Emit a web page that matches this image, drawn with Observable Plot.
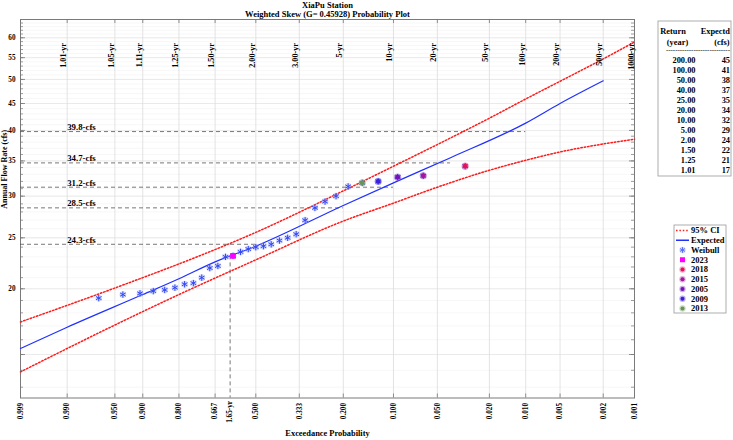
<!DOCTYPE html>
<html>
<head>
<meta charset="utf-8">
<script src="https://cdn.jsdelivr.net/npm/d3@7"></script>
<script src="https://cdn.jsdelivr.net/npm/@observablehq/plot@0.6"></script>
<style>
  html, body { margin: 0; padding: 0; background: #fff; }
  #chart { width: 733px; height: 440px; }
</style>
</head>
<body>
<div id="chart"></div>
<script>
// ---- Station data -------------------------------------------------------
const skewG = 0.45928;

// Exceedance-probability grid and its labels
const probTicks  = [0.999, 0.990, 0.950, 0.900, 0.800, 0.667, 0.500, 0.333, 0.200, 0.100, 0.050, 0.020, 0.010, 0.005, 0.002, 0.001];
const probLabels = ["0.999", "0.990", "0.950", "0.900", "0.800", "0.667", "0.500", "0.333", "0.200", "0.100", "0.050", "0.020", "0.010", "0.005", "0.002", "0.001"];
const periodProbs  = [0.990, 0.950, 0.900, 0.800, 0.667, 0.500, 0.333, 0.200, 0.100, 0.050, 0.020, 0.010, 0.005, 0.002, 0.001];
const periodLabels = ["1.01-yr", "1.05-yr", "1.11-yr", "1.25-yr", "1.50-yr", "2.00-yr", "3.00-yr", "5-yr", "10-yr", "20-yr", "50-yr", "100-yr", "200-yr", "500-yr", "1000-yr"];

// Flow axis
const yDomain = [12.4, 65];
const yTickLabels = [20, 25, 30, 35, 40, 45, 50, 55, 60];

// Observed annual flows, Weibull plotting positions (largest first)
const weibullP = [0.031, 0.063, 0.094, 0.125, 0.156, 0.188, 0.219, 0.250, 0.281, 0.313, 0.344, 0.375, 0.406, 0.438, 0.469, 0.500,
                  0.531, 0.563, 0.594, 0.625, 0.656, 0.688, 0.719, 0.750, 0.781, 0.813, 0.844, 0.875, 0.906, 0.938, 0.969];
const weibullQ = [34.2, 32.8, 32.6, 32.0, 31.8, 31.3, 30.0, 29.3, 28.5, 27.0, 25.4, 25.0, 24.7, 24.3, 24.1, 24.0,
                  23.8, 23.5, 23.1, 23.0, 22.1, 21.9, 21.0, 20.5, 20.4, 20.1, 19.9, 19.8, 19.6, 19.5, 19.2];

// Highlighted years
const yearNames  = ["2023", "2018", "2015", "2005", "2009", "2013"];
const yearP      = [0.594, 0.031, 0.063, 0.094, 0.125, 0.156];
const yearQ      = [23.1, 34.2, 32.8, 32.6, 32.0, 31.8];
const yearColors = ["#ff00ff", "#e3125e", "#a3179b", "#7413b6", "#3f1fdc", "#6a9454"];

// Fitted (expected) frequency curve
const expectedP = [0.999, 0.990, 0.900, 0.800, 0.667, 0.500, 0.200, 0.100, 0.040, 0.010, 0.005, 0.002];
const expectedQ = [15.4, 16.9, 19.5, 20.9, 22.5, 24.1, 28.8, 31.8, 35.5, 41.3, 45.0, 49.7];

// 95% confidence limits
const ciP     = [0.999, 0.990, 0.900, 0.800, 0.500, 0.200, 0.100, 0.050, 0.020, 0.010, 0.005, 0.002, 0.001];
const ciUpper = [17.3, 18.6, 21.0, 22.3, 25.6, 30.7, 34.2, 37.6, 42.2, 45.9, 49.6, 54.7, 58.9];
const ciLower = [13.9, 15.4, 18.1, 19.5, 22.7, 26.9, 29.1, 31.2, 33.6, 35.1, 36.4, 37.7, 38.5];

// Reference flows and the return period each one is drawn to
const refQ = [24.3, 28.5, 31.2, 34.7, 39.8];
const refP = [0.500, 0.200, 0.100, 0.040, 0.010];

// 2023 event return period
const eventPeriod = 1.65;
const eventQ = 23.1;

// Summary table
const tableReturn   = ["200.00", "100.00", "50.00", "40.00", "25.00", "20.00", "10.00", "5.00", "2.00", "1.50", "1.25", "1.01"];
const tableExpected = [45, 41, 38, 37, 35, 34, 32, 29, 24, 22, 21, 17];

// ---- Probability axis: Pearson type III frequency factor -----------------
function normInv(p) {
  const a = [-3.969683028665376e+01, 2.209460984245205e+02, -2.759285104469687e+02, 1.383577518672690e+02, -3.066479806614716e+01, 2.506628277459239e+00];
  const b = [-5.447609879822406e+01, 1.615858368580409e+02, -1.556989798598866e+02, 6.680131188771972e+01, -1.328068155288572e+01];
  const c = [-7.784894002430293e-03, -3.223964580411365e-01, -2.400758277161838e+00, -2.549732539343734e+00, 4.374664141464968e+00, 2.938163982698783e+00];
  const d = [7.784695709041462e-03, 3.224671290700398e-01, 2.445134137142996e+00, 3.754408661907416e+00];
  const pl = 0.02425, ph = 1 - pl;
  let q, r;
  if (p < pl) {
    q = Math.sqrt(-2 * Math.log(p));
    return (((((c[0]*q + c[1])*q + c[2])*q + c[3])*q + c[4])*q + c[5]) / ((((d[0]*q + d[1])*q + d[2])*q + d[3])*q + 1);
  }
  if (p <= ph) {
    q = p - 0.5; r = q * q;
    return (((((a[0]*r + a[1])*r + a[2])*r + a[3])*r + a[4])*r + a[5])*q / (((((b[0]*r + b[1])*r + b[2])*r + b[3])*r + b[4])*r + 1);
  }
  q = Math.sqrt(-2 * Math.log(1 - p));
  return -(((((c[0]*q + c[1])*q + c[2])*q + c[3])*q + c[4])*q + c[5]) / ((((d[0]*q + d[1])*q + d[2])*q + d[3])*q + 1);
}
// Wilson–Hilferty frequency factor for an exceedance probability
function K(p) {
  const z = normInv(1 - p), g = skewG;
  return (2 / g) * (Math.pow(1 + g * z / 6 - g * g / 36, 3) - 1);
}

// ---- Tables for the marks --------------------------------------------------
const xDomain = [K(probTicks[0]), K(probTicks[probTicks.length - 1])];
const gridX = probTicks.map((p, i) => ({k: K(p), label: probLabels[i]}));
const periods = periodProbs.map((p, i) => ({k: K(p), label: periodLabels[i]}));
const weibull = weibullP.map((p, i) => ({k: K(p), q: weibullQ[i]}));
const years = yearNames.map((y, i) => ({year: y, k: K(yearP[i]), q: yearQ[i], color: yearColors[i]}));
const expected = expectedP.map((p, i) => ({k: K(p), q: expectedQ[i]}));
const upper = ciP.map((p, i) => ({k: K(p), q: ciUpper[i]}));
const lower = ciP.map((p, i) => ({k: K(p), q: ciLower[i]}));
const refs = refQ.map((q, i) => ({q, k0: xDomain[0], k1: K(refP[i]), labelK: K(0.990)}));
const event = [{k: K(1 / eventPeriod), q: eventQ, q0: yDomain[0], label: `${eventPeriod.toFixed(2)}-yr`}];
const minorY = d3.range(13, 65);
const majorY = minorY.filter(v => v % 5 === 0);

const FONT = "'Liberation Serif', 'Times New Roman', serif";
const frameW = 733 - 20 - 99, frameH = 440 - 19 - 42.5;
const CI_RED = "#ff1a1a", CI_DASH = "1.5,1.9";

const chart = Plot.plot({
  width: 733,
  height: 440,
  marginLeft: 20,
  marginRight: 99,
  marginTop: 19,
  marginBottom: 42.5,
  style: {fontFamily: FONT, fontSize: "8px", fontWeight: "bold", background: "#fff", color: "#000"},
  x: {domain: xDomain, axis: null},
  y: {type: "log", domain: yDomain, axis: null},
  marks: [
    // grid
    Plot.ruleY(minorY, {stroke: "#f1f1f1", strokeWidth: 0.6}),
    Plot.ruleY(majorY, {stroke: "#e4e4e4", strokeWidth: 0.7}),
    Plot.ruleX(gridX, {x: "k", stroke: "#dcdcdc", strokeWidth: 0.8}),
    Plot.frame({stroke: "#7a7a7a", strokeWidth: 1}),
    // inward ticks on all four sides
    Plot.ruleY(minorY, {insetRight: frameW - 3, stroke: "#777", strokeWidth: 0.7}),
    Plot.ruleY(majorY, {insetRight: frameW - 5, stroke: "#777", strokeWidth: 0.8}),
    Plot.ruleY(minorY, {insetLeft: frameW - 3, stroke: "#777", strokeWidth: 0.7}),
    Plot.ruleY(majorY, {insetLeft: frameW - 5, stroke: "#777", strokeWidth: 0.8}),
    Plot.ruleX(gridX, {x: "k", insetTop: frameH - 4, stroke: "#777", strokeWidth: 0.8}),
    Plot.ruleX(gridX, {x: "k", insetBottom: frameH - 4, stroke: "#777", strokeWidth: 0.8}),
    // reference flows
    Plot.ruleY(refs, {y: "q", x1: "k0", x2: "k1", stroke: "#555", strokeWidth: 0.8, strokeDasharray: "4,3"}),
    Plot.text(refs, {x: "labelK", y: "q", text: d => `${d.q.toFixed(1)}-cfs`, textAnchor: "start", lineAnchor: "bottom", dy: -1.5, fontSize: 8.8, fontWeight: "bold"}),
    Plot.ruleX(event, {x: "k", y1: "q", y2: "q0", stroke: "#555", strokeWidth: 0.8, strokeDasharray: "4,3"}),
    // confidence limits and fitted curve
    Plot.line(upper, {x: "k", y: "q", curve: "monotone-x", stroke: CI_RED, strokeWidth: 1.5, strokeDasharray: CI_DASH}),
    Plot.line(lower, {x: "k", y: "q", curve: "monotone-x", stroke: CI_RED, strokeWidth: 1.5, strokeDasharray: CI_DASH}),
    Plot.line(expected, {x: "k", y: "q", curve: "monotone-x", stroke: "#2030ff", strokeWidth: 1.2}),
    // observed flows
    Plot.dot(weibull, {x: "k", y: "q", r: 3.4, fill: "#9ea8ff", fillOpacity: 0.45}),
    Plot.dot(weibull, {x: "k", y: "q", r: 3, symbol: "asterisk", stroke: "#3347f2", strokeWidth: 1}),
    Plot.dot(years.filter(d => d.year !== "2023"), {x: "k", y: "q", r: 3.6, fill: "color", fillOpacity: 0.35}),
    Plot.dot(years.filter(d => d.year !== "2023"), {x: "k", y: "q", r: 2.4, fill: "color"}),
    Plot.dot(years.filter(d => d.year === "2023"), {x: "k", y: "q", r: 3.2, symbol: "square", fill: "color"}),
    // axis labels
    Plot.text(yTickLabels, {y: d => d, text: d => String(d), frameAnchor: "left", dx: -5, textAnchor: "end", fontSize: 7.2, fontWeight: "bold"}),
    Plot.text(gridX, {x: "k", text: "label", frameAnchor: "bottom", dy: 5, rotate: -90, textAnchor: "end", lineAnchor: "middle", fontSize: 7.2, fontWeight: "bold"}),
    Plot.text(event, {x: "k", text: "label", frameAnchor: "bottom", dy: 3, rotate: -90, textAnchor: "end", lineAnchor: "middle", fontSize: 7.2, fontWeight: "bold"}),
    Plot.text(["Annual Flow Rate (cfs)"], {frameAnchor: "left", dx: -16, rotate: -90, lineAnchor: "middle", fontSize: 8, fontWeight: "bold"}),
    Plot.text(["Exceedance Probability"], {frameAnchor: "bottom", dy: 35, lineAnchor: "middle", fontSize: 8.4, fontWeight: "bold"}),
    Plot.text(["XiaPu Station"], {frameAnchor: "top", dy: -14.5, lineAnchor: "middle", fontSize: 8.5, fontWeight: "bold"}),
    Plot.text([`Weighted Skew (G= ${skewG}) Probability Plot`], {frameAnchor: "top", dy: -5, lineAnchor: "middle", fontSize: 8.5, fontWeight: "bold"})
  ]
});
document.getElementById("chart").append(chart);

const svg = d3.select(chart);
const xScale = chart.scale("x");

// ---- Return-period labels along the top of the frame ----------------------
const periodGroup = svg.append("g")
  .attr("font-family", FONT).attr("font-weight", "bold").attr("font-size", 8.2)
  .attr("fill", "#000").attr("text-anchor", "end");
periods.forEach(d => {
  periodGroup.append("text")
    .attr("transform", `translate(${xScale.apply(d.k) - 0.5},${43}) rotate(-90)`)
    .text(d.label);
});

// ---- Return-period table -------------------------------------------------
const tbl = svg.append("g")
  .attr("font-family", FONT).attr("font-weight", "bold").attr("font-size", 8.4)
  .attr("fill", "#000").attr("text-anchor", "start");
tbl.append("rect").attr("x", 658).attr("y", 21).attr("width", 73).attr("height", 155)
  .attr("fill", "#fff").attr("stroke", "#999").attr("stroke-width", 0.8);
tbl.append("text").attr("x", 673).attr("y", 33.5).attr("text-anchor", "middle").text("Return");
tbl.append("text").attr("x", 677.5).attr("y", 44.5).attr("text-anchor", "middle").text("(year)");
tbl.append("text").attr("x", 730).attr("y", 33.5).attr("text-anchor", "end").text("Expectd");
tbl.append("text").attr("x", 729.5).attr("y", 44.5).attr("text-anchor", "end").text("(cfs)");
tbl.append("text").attr("x", 666).attr("y", 52).attr("font-size", 7)
  .attr("textLength", 64).attr("lengthAdjust", "spacing").text("----------------------------");
tableReturn.forEach((r, i) => {
  const y = 63.2 + i * 9.97;
  tbl.append("text").attr("x", 695.5).attr("y", y).attr("text-anchor", "end").text(r);
  tbl.append("text").attr("x", 730).attr("y", y).attr("text-anchor", "end").text(tableExpected[i]);
});

// ---- Legend ------------------------------------------------------------------
const leg = svg.append("g")
  .attr("font-family", FONT).attr("font-weight", "bold").attr("font-size", 8.5)
  .attr("fill", "#000").attr("text-anchor", "start");
leg.append("rect").attr("x", 674).attr("y", 225).attr("width", 52).attr("height", 88)
  .attr("fill", "#fff").attr("stroke", "#999").attr("stroke-width", 0.8);
const legendItems = [
  {label: "95% CI", kind: "ci"},
  {label: "Expected", kind: "exp"},
  {label: "Weibull", kind: "weibull"},
  ...yearNames.map((y, i) => ({label: y, kind: y === "2023" ? "square" : "circle", color: yearColors[i]}))
];
legendItems.forEach((item, i) => {
  const cy = 230.5 + i * 9.75;
  if (item.kind === "ci") {
    leg.append("line").attr("x1", 676).attr("x2", 689).attr("y1", cy).attr("y2", cy)
      .attr("stroke", CI_RED).attr("stroke-width", 1.5).attr("stroke-dasharray", CI_DASH);
  } else if (item.kind === "exp") {
    leg.append("line").attr("x1", 676).attr("x2", 689).attr("y1", cy).attr("y2", cy)
      .attr("stroke", "#2030ff").attr("stroke-width", 1.5);
  } else if (item.kind === "weibull") {
    leg.append("circle").attr("cx", 682.5).attr("cy", cy).attr("r", 3.2).attr("fill", "#9ea8ff").attr("fill-opacity", 0.45);
    leg.append("path").attr("transform", `translate(682.5,${cy})`)
      .attr("d", d3.symbol(d3.symbolAsterisk, 22)()).attr("stroke", "#5a6cf5").attr("stroke-width", 1).attr("fill", "none");
  } else if (item.kind === "square") {
    leg.append("rect").attr("x", 680).attr("y", cy - 2.5).attr("width", 5).attr("height", 5).attr("fill", item.color);
  } else {
    leg.append("circle").attr("cx", 682.5).attr("cy", cy).attr("r", 3.2).attr("fill", item.color).attr("fill-opacity", 0.35);
    leg.append("circle").attr("cx", 682.5).attr("cy", cy).attr("r", 2).attr("fill", item.color);
  }
  leg.append("text").attr("x", 691).attr("y", cy + 2.9).text(item.label);
});
</script>
</body>
</html>
